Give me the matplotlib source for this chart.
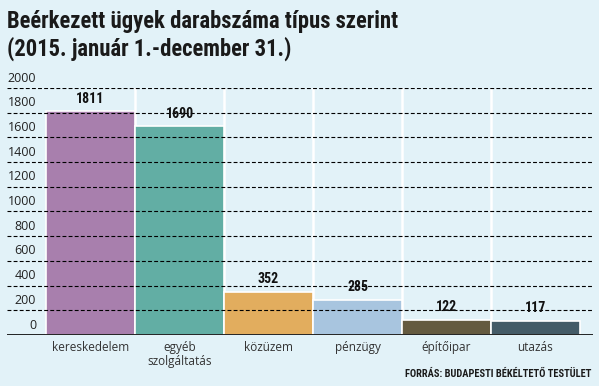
import numpy as np
import matplotlib.pyplot as plt

# -------------------------------------------------------
# Data
# -------------------------------------------------------

categories = ["kereskedelem", "egyéb\nszolgáltatás", "közüzem",
              "pénzügy", "építőipar", "utazás"]
values = [1811, 1690, 352, 285, 122, 117]
colors = ["#a87fad", "#62aea4", "#e2ad5e", "#a8c5df", "#645a40", "#445b67"]
yticks = [0, 200, 400, 600, 800, 1000, 1200, 1400, 1600, 1800, 2000]

title_1 = "Beérkezett ügyek darabszáma típus szerint"
title_2 = "(2015. január 1.-december 31.)"
source = "FORRÁS: BUDAPESTI BÉKÉLTETŐ TESTÜLET"

bg = "#e2f2f8"
narrow = ["Roboto Condensed", "Barlow Condensed", "DejaVu Sans"]
plain = ["Open Sans", "DejaVu Sans"]

# -------------------------------------------------------
# Figure
# -------------------------------------------------------

fig = plt.figure(figsize=(5.99, 3.86), dpi=100, facecolor=bg)
ax = fig.add_axes([7 / 599, 1 - 335 / 386, 586 / 599, 247 / 386])
ax.set_facecolor(bg)

x = np.arange(len(values))
ax.bar(x, values, width=1.0, color=colors, edgecolor="white",
       linewidth=1.2, zorder=2)

# white separators between columns
for b in x[:-1] + 0.5:
    ax.axvline(b, color="white", linewidth=1.8, zorder=1)

# dashed grid on top of the bars
for t in yticks[1:]:
    ax.axhline(t, color="black", linestyle=(0, (3.5, 2)), linewidth=0.8,
               zorder=3)
ax.axhline(0, color="black", linewidth=1.2, zorder=4)

left = (7 - 90.5) / 89
ax.set_xlim(left, left + 586 / 89)
ax.set_ylim(0, 2000)

for t in yticks:
    ax.annotate(str(t), xy=(0, t), xycoords=("axes fraction", "data"),
                xytext=(21, 2.5), textcoords="offset points",
                ha="right", va="bottom", fontsize=9, family=plain,
                color="#222222")

for xi, v in zip(x, values):
    ax.annotate(str(v), xy=(xi, v), xytext=(0, 4), textcoords="offset points",
                ha="center", va="bottom", fontsize=10, fontweight="bold",
                family=narrow, color="#111111", zorder=5)

for xi, c in zip(x, categories):
    ax.text(xi, -50, c, ha="center", va="top", fontsize=8.5, family=plain,
            color="#333333", linespacing=1.1)

for s in ax.spines.values():
    s.set_visible(False)
ax.set_xticks([])
ax.set_yticks([])

fig.text(7 / 599, 1 - 28 / 386, title_1, ha="left", va="baseline",
         fontsize=16.3, fontweight="heavy", family=narrow, color="#1a1a1a")
fig.text(7 / 599, 1 - 56 / 386, title_2, ha="left", va="baseline",
         fontsize=16.3, fontweight="heavy", family=narrow, color="#1a1a1a")
fig.text(591 / 599, 1 - 377 / 386, source, ha="right", va="baseline",
         fontsize=7.5, fontweight="bold", family=narrow, color="#1a1a1a")

fig.savefig("out.png", dpi=100, facecolor=bg)
